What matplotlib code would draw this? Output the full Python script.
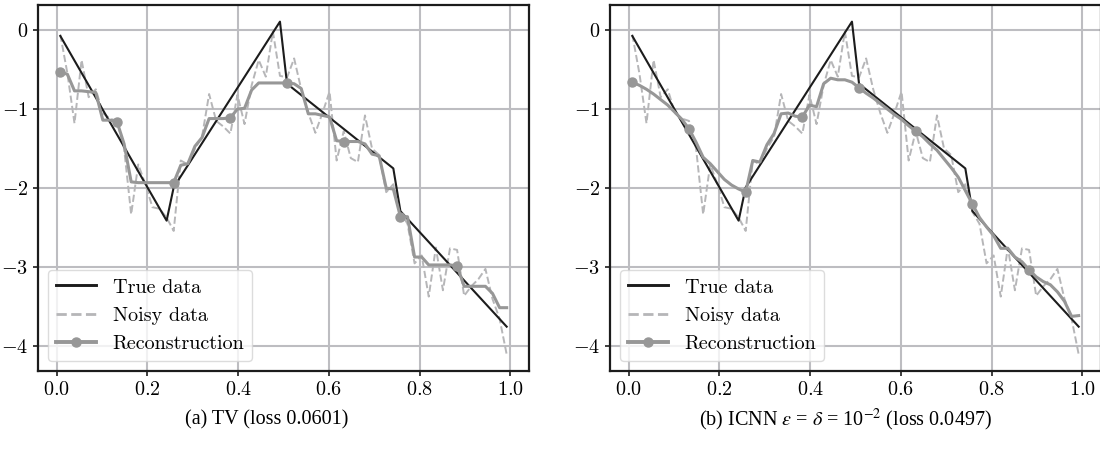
import matplotlib
matplotlib.use("Agg")
import matplotlib.pyplot as plt
import numpy as np

# ---------------- data ----------------
n_samples = 64
x_grid = (np.arange(n_samples) + 0.5) / n_samples

# true signal (piecewise linear, given by its kink samples)
true_x = [0.0078, 0.2422, 0.2578, 0.4922, 0.5078, 0.7422, 0.7578, 0.9922]
true_y = [-0.076, -2.41, -1.99, 0.105, -0.68, -1.75, -2.29, -3.75]

noisy_y = [-0.06, -0.55, -1.18, -0.38, -0.85, -0.75, -1.05, -1.12, -1.15, -1.50,
           -2.33, -1.70, -1.95, -2.24, -2.26, -2.37, -2.54, -1.65, -1.70, -1.50,
           -1.35, -0.81, -1.15, -1.22, -1.31, -0.82, -1.19, -0.70, -0.38, -0.59,
           -0.02, -0.58, -0.60, -0.36, -0.75, -1.05, -1.30, -1.05, -0.78, -1.65,
           -1.28, -1.62, -1.67, -1.08, -1.50, -1.58, -2.05, -1.95, -2.30, -2.45,
           -2.95, -2.85, -3.37, -2.75, -3.29, -2.76, -2.78, -3.36, -3.24, -3.15,
           -3.02, -3.40, -3.65, -4.10]

tv_y = [-0.53, -0.56, -0.77, -0.77, -0.78, -0.79, -1.14, -1.14, -1.16, -1.44,
        -1.92, -1.93, -1.93, -1.93, -1.93, -1.93, -1.93, -1.71, -1.69, -1.47,
        -1.36, -1.12, -1.12, -1.12, -1.11, -1.00, -0.99, -0.76, -0.67, -0.67,
        -0.67, -0.67, -0.67, -0.68, -0.74, -1.06, -1.06, -1.08, -1.10, -1.40,
        -1.41, -1.41, -1.41, -1.44, -1.57, -1.59, -2.00, -2.01, -2.36, -2.36,
        -2.87, -2.87, -2.97, -2.97, -2.97, -2.97, -2.98, -3.24, -3.24, -3.24,
        -3.24, -3.33, -3.51, -3.51]

icnn_y = [-0.66, -0.70, -0.75, -0.81, -0.88, -0.95, -1.04, -1.13, -1.25, -1.42,
          -1.61, -1.69, -1.79, -1.89, -1.96, -2.01, -2.05, -1.65, -1.67, -1.45,
          -1.31, -1.06, -1.05, -1.09, -1.10, -0.95, -0.97, -0.68, -0.61, -0.63,
          -0.63, -0.66, -0.73, -0.80, -0.86, -0.93, -1.00, -1.07, -1.13, -1.21,
          -1.28, -1.35, -1.44, -1.52, -1.63, -1.74, -1.86, -2.03, -2.20, -2.37,
          -2.49, -2.60, -2.76, -2.76, -2.87, -2.93, -3.03, -3.12, -3.18, -3.22,
          -3.31, -3.43, -3.62, -3.61]

x_ticks = [0.0, 0.2, 0.4, 0.6, 0.8, 1.0]
y_ticks = [0, -1, -2, -3, -4]
legend_labels = ["True data", "Noisy data", "Reconstruction"]
captions = ["(a) TV (loss 0.0601)",
            r"(b) ICNN $\varepsilon$ = $\delta$ = 10$^{-2}$ (loss 0.0497)"]

# ---------------- style ----------------
plt.rcParams.update({
    "font.family": "serif",
    "font.serif": ["cmr10"],
    "mathtext.fontset": "cm",
    "axes.formatter.use_mathtext": True,
    "font.size": 14.5,
})

W, H = 1100, 455
fig = plt.figure(figsize=(W / 100, H / 100), dpi=100)
ax_l = fig.add_axes([38 / W, 84 / H, 491 / W, 366 / H])
ax_r = fig.add_axes([610 / W, 84 / H, 491 / W, 366 / H])

black = "#1c1c1c"
noisy_c = "#b6b6b8"
rec_c = "#979797"
grid_c = "#bdbdc1"

for ax, rec in [(ax_l, tv_y), (ax_r, icnn_y)]:
    ax.plot(true_x, true_y, color=black, lw=1.5, label=legend_labels[0], zorder=3)
    ax.plot(x_grid, noisy_y, color=noisy_c, lw=1.4, ls="--", label=legend_labels[1], zorder=2)
    ax.plot(x_grid, rec, color=rec_c, lw=2.2, marker="o", ms=6.5, markevery=8,
            label=legend_labels[2], zorder=4)
    ax.set_xticks(x_ticks)
    ax.set_yticks(y_ticks)
    ax.grid(True, color=grid_c, lw=1.5)
    for s in ax.spines.values():
        s.set_linewidth(1.6)
        s.set_color(black)
    ax.tick_params(length=3.5, width=1.2, color=black, pad=3.5, labelsize=14.5)
    leg = ax.legend(loc="lower left", fontsize=14.5, framealpha=0.8,
                    edgecolor="#d4d4d4", fancybox=True)
    for line in leg.get_lines():
        line.set_linewidth(line.get_linewidth() + 0.6)

fig.text(267 / W, 1 - 420 / H, captions[0], ha="center", va="center",
         fontsize=14.5, family="Liberation Serif", math_fontfamily="stix")
fig.text(845 / W, 1 - 420 / H, captions[1], ha="center", va="center",
         fontsize=14.5, family="Liberation Serif", math_fontfamily="stix")

fig.savefig("out.png", dpi=100)
